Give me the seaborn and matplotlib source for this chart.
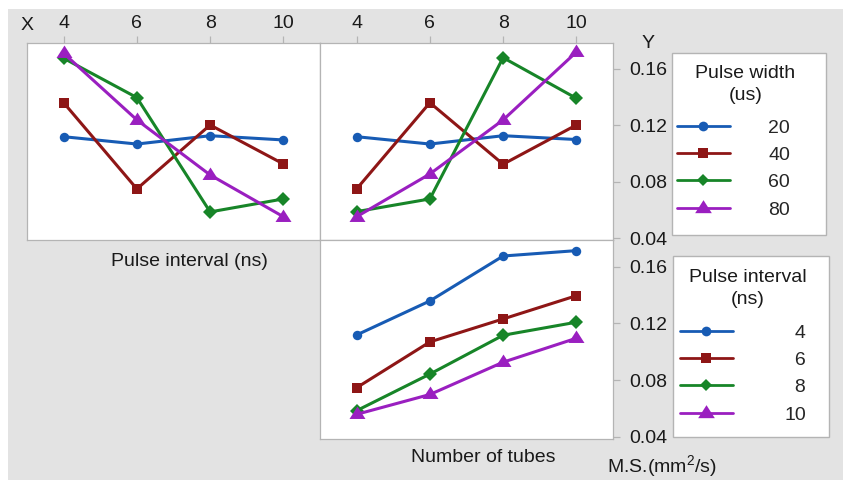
import numpy as np
import pandas as pd
import matplotlib
matplotlib.use("Agg")
import matplotlib.pyplot as plt
from matplotlib.patches import Rectangle
from matplotlib.path import Path
import seaborn as sns

# ---- data: mean M.S. (mm^2/s) for each factor level ----
levels = [4, 6, 8, 10]                 # x positions shared by all panels
pulse_width = ["20", "40", "60", "80"]  # us
pulse_interval = ["4", "6", "8", "10"]  # ns

# Pulse interval on x, one line per pulse width
pw20_by_interval = [0.1120, 0.1068, 0.1127, 0.1097]
pw40_by_interval = [0.1361, 0.0750, 0.1203, 0.0927]
pw60_by_interval = [0.1676, 0.1397, 0.0587, 0.0679]
pw80_by_interval = [0.1711, 0.1239, 0.0849, 0.0553]

# Number of tubes on x, one line per pulse width
pw20_by_tubes = [0.1120, 0.1068, 0.1127, 0.1100]
pw40_by_tubes = [0.0750, 0.1361, 0.0925, 0.1203]
pw60_by_tubes = [0.0589, 0.0679, 0.1680, 0.1392]
pw80_by_tubes = [0.0553, 0.0856, 0.1239, 0.1720]

# Number of tubes on x, one line per pulse interval
pi4_by_tubes = [0.1118, 0.1358, 0.1675, 0.1713]
pi6_by_tubes = [0.0746, 0.1069, 0.1231, 0.1395]
pi8_by_tubes = [0.0584, 0.0842, 0.1116, 0.1208]
pi10_by_tubes = [0.0558, 0.0698, 0.0926, 0.1095]

y_ticks = [0.04, 0.08, 0.12, 0.16]

# ---- styling ----
W, H = 843, 480
colors = ["#175bb4", "#8e1616", "#178528", "#9a1fc0"]
triangle = Path([(0, 1.0), (-1, -0.56), (1, -0.56), (0, 1.0)],
                [Path.MOVETO, Path.LINETO, Path.LINETO, Path.CLOSEPOLY])
marker_shapes = ["o", "s", "D", triangle]
plot_sizes = [6.8, 7.0, 7.0, 11.5]
legend_sizes = [7.0, 7.4, 6.4, 12.0]
grey = "#e3e3e3"
edge = "#b4b4b4"
ink = "#1a1a1a"
fs = 14
lw = 2.2

sns.set_theme(style="white")
plt.rcParams["font.family"] = ["Liberation Sans", "DejaVu Sans"]
plt.rcParams["mathtext.fontset"] = "custom"
plt.rcParams["mathtext.rm"] = "Liberation Sans"
plt.rcParams["mathtext.it"] = "Liberation Sans:italic"


def frame(x0, y0, x1, y1):
    return [x0 / W, 1 - y1 / H, (x1 - x0) / W, (y1 - y0) / H]


def long_table(series, names, group):
    rows = []
    for name, vals in zip(names, series):
        for x, v in zip(levels, vals):
            rows.append({"x": x, "ms": v, group: name})
    return pd.DataFrame(rows)


def draw_panel(ax, df, group, names):
    pal = dict(zip(names, colors))
    mk = dict(zip(names, marker_shapes))
    sns.lineplot(data=df, x="x", y="ms", hue=group, style=group,
                 hue_order=names, style_order=names, palette=pal,
                 markers=mk, dashes=False, errorbar=None, linewidth=lw,
                 markeredgewidth=0, ax=ax)
    for line, s in zip(ax.lines, plot_sizes):
        line.set_markersize(s)
    leg = ax.get_legend()
    handles = list(leg.legend_handles)
    for h, s in zip(handles, legend_sizes):
        h.set_markersize(s)
        h.set_linewidth(2.0)
    leg.remove()
    ax.set_xlim(3, 11)
    ax.set_xlabel("")
    ax.set_ylabel("")
    for sp in ax.spines.values():
        sp.set_color(edge)
        sp.set_linewidth(0.9)
    ax.set_facecolor("white")
    return handles


fig = plt.figure(figsize=(W / 100, H / 100), dpi=100)
fig.patch.set_facecolor("white")
fig.patches.append(Rectangle((8 / W, 0), 1 - 8 / W, 1 - 9 / H,
                             transform=fig.transFigure, facecolor=grey,
                             edgecolor="none", zorder=-5))

ax_tl = fig.add_axes(frame(27, 43, 320, 240))
ax_tr = fig.add_axes(frame(320, 43, 613, 240))
ax_br = fig.add_axes(frame(320, 240, 613, 439))

df_tl = long_table([pw20_by_interval, pw40_by_interval, pw60_by_interval,
                    pw80_by_interval], pulse_width, "Pulse width")
df_tr = long_table([pw20_by_tubes, pw40_by_tubes, pw60_by_tubes,
                    pw80_by_tubes], pulse_width, "Pulse width")
df_br = long_table([pi4_by_tubes, pi6_by_tubes, pi8_by_tubes,
                    pi10_by_tubes], pulse_interval, "Pulse interval")

h_pw = draw_panel(ax_tl, df_tl, "Pulse width", pulse_width)
draw_panel(ax_tr, df_tr, "Pulse width", pulse_width)
h_pi = draw_panel(ax_br, df_br, "Pulse interval", pulse_interval)

for ax in (ax_tl, ax_tr):
    ax.set_ylim(0.0388, 0.1784)
ax_br.set_ylim(0.0384, 0.1788)

tick_kw = dict(colors=edge, length=5, width=0.9, labelcolor=ink,
               labelsize=fs)
# top x ticks on the upper panels
for ax in (ax_tl, ax_tr):
    ax.set_xticks(levels)
    ax.set_xticklabels([str(v) for v in levels])
    ax.xaxis.tick_top()
    ax.tick_params(axis="x", which="both", direction="out", pad=3, **tick_kw)
ax_br.set_xticks([])
# right y ticks on the right-hand panels
ax_tl.set_yticks([])
for ax in (ax_tr, ax_br):
    ax.set_yticks(y_ticks)
    ax.set_yticklabels([f"{v:.2f}" for v in y_ticks])
    ax.yaxis.tick_right()
    ax.tick_params(axis="y", direction="out", pad=7, **tick_kw)

# axis captions
txt = dict(fontsize=fs, color=ink)
fig.text(27.5 / W, 1 - 25 / H, "X", ha="center", va="center", **txt)
fig.text(648 / W, 1 - 43 / H, "Y", ha="center", va="center", **txt)
fig.text(189 / W, 1 - 261 / H, "Pulse interval (ns)", ha="center",
         va="center", **txt)
fig.text(483 / W, 1 - 457 / H, "Number of tubes", ha="center",
         va="center", **txt)
fig.text(607 / W, 1 - 466 / H, "M.S.(mm$^2$/s)", ha="left", va="center",
         **txt)

# legend boxes with two-line titles
for (x0, y0, x1, y1) in [(672, 53, 826, 235), (673, 256, 829, 437)]:
    fig.patches.append(Rectangle((x0 / W, 1 - y1 / H), (x1 - x0) / W,
                                 (y1 - y0) / H, transform=fig.transFigure,
                                 facecolor="white", edgecolor=edge,
                                 linewidth=1.0, zorder=1))
fig.text(745.5 / W, 1 - 84.5 / H, "Pulse width\n(us)", ha="center",
         va="center", multialignment="center", linespacing=1.32,
         zorder=4, **txt)
fig.text(748 / W, 1 - 288.5 / H, "Pulse interval\n(ns)", ha="center",
         va="center", multialignment="center", linespacing=1.32,
         zorder=4, **txt)

fsp = "\u2007"
leg_kw = dict(loc="upper left", frameon=False, fontsize=fs,
              borderpad=0, borderaxespad=0,
              handlelength=2.7, labelspacing=0.5)
leg1 = fig.legend(h_pw, pulse_width, bbox_to_anchor=(677 / W, 1 - 119 / H),
                  handletextpad=2.0, **leg_kw)
leg2 = fig.legend(h_pi, [fsp * (2 - len(s)) + s for s in pulse_interval],
                  bbox_to_anchor=(680 / W, 1 - 324 / H),
                  handletextpad=2.65, **leg_kw)
for lg in (leg1, leg2):
    lg.set_zorder(3)

fig.savefig("out.png", dpi=100, facecolor=fig.get_facecolor())
